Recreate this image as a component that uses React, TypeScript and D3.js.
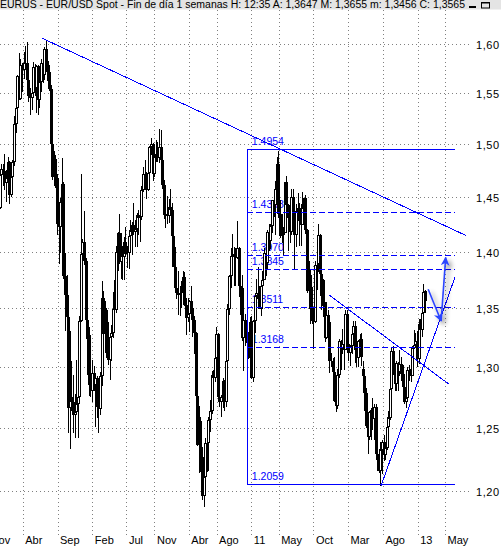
import React from "react";
import * as d3 from "d3";

const W = 501;
const H = 556;

const title =
  "EURUS - EUR/USD Spot - Fin de día 1 semanas H: 12:35 A: 1,3647 M: 1,3655 m: 1,3456 C: 1,3565";

// First weekly bar (Monday), each following row is the next week
const firstWeek = "2007-12-17";

// Weekly bars: [open, high, low, close]
const ohlc2007 = [
  [1.443, 1.4465, 1.4325, 1.44], [1.44, 1.474, 1.439, 1.471], [1.471, 1.4815, 1.455, 1.476],
];
const ohlc2008 = [
  [1.476, 1.4815, 1.46, 1.4745], [1.4745, 1.4905, 1.457, 1.463], [1.463, 1.475, 1.445, 1.468], [1.468, 1.4875, 1.466, 1.483],
  [1.483, 1.484, 1.444, 1.452], [1.452, 1.473, 1.4505, 1.4685], [1.4685, 1.485, 1.4575, 1.4835], [1.4835, 1.5275, 1.479, 1.5195],
  [1.5195, 1.5465, 1.511, 1.5355], [1.5355, 1.5685, 1.529, 1.567], [1.567, 1.5905, 1.5435, 1.544], [1.544, 1.5845, 1.543, 1.5785], [1.5785, 1.5805, 1.551, 1.573],
  [1.573, 1.5915, 1.5645, 1.5805], [1.5805, 1.598, 1.573, 1.581], [1.581, 1.6019, 1.562, 1.563], [1.563, 1.572, 1.5415, 1.547],
  [1.547, 1.5555, 1.5285, 1.545], [1.545, 1.56, 1.5335, 1.55], [1.55, 1.582, 1.547, 1.577], [1.577, 1.58, 1.547, 1.555],
  [1.555, 1.5785, 1.5305, 1.5775], [1.5775, 1.5785, 1.5285, 1.543], [1.543, 1.5635, 1.5355, 1.561], [1.561, 1.585, 1.551, 1.581], [1.581, 1.59, 1.5605, 1.568],
  [1.568, 1.597, 1.5635, 1.595], [1.595, 1.6038, 1.578, 1.5825], [1.5825, 1.5945, 1.5625, 1.571], [1.571, 1.5785, 1.552, 1.554],
  [1.554, 1.5585, 1.4975, 1.5], [1.5, 1.502, 1.466, 1.469], [1.469, 1.4935, 1.4605, 1.486], [1.486, 1.49, 1.4585, 1.4675],
  [1.4675, 1.4715, 1.415, 1.425], [1.425, 1.4285, 1.3885, 1.4225], [1.4225, 1.449, 1.3985, 1.445], [1.445, 1.4865, 1.4445, 1.462], [1.462, 1.4645, 1.376, 1.3785],
  [1.3785, 1.399, 1.33, 1.3615], [1.3615, 1.3795, 1.3325, 1.342], [1.342, 1.3455, 1.246, 1.266], [1.266, 1.33, 1.233, 1.275],
  [1.275, 1.3045, 1.264, 1.271], [1.271, 1.2935, 1.2455, 1.2605], [1.2605, 1.2775, 1.242, 1.2625], [1.2625, 1.3055, 1.262, 1.269],
  [1.269, 1.2795, 1.242, 1.275], [1.275, 1.3435, 1.273, 1.339], [1.339, 1.4719, 1.338, 1.3975], [1.3975, 1.4115, 1.385, 1.409], [1.409, 1.437, 1.388, 1.392],
];
const ohlc2009 = [
  [1.392, 1.3945, 1.332, 1.3395], [1.3395, 1.347, 1.2935, 1.3235], [1.3235, 1.3335, 1.276, 1.2845], [1.2845, 1.327, 1.275, 1.28],
  [1.28, 1.306, 1.271, 1.2945], [1.2945, 1.301, 1.28, 1.2845], [1.2845, 1.2935, 1.251, 1.291], [1.291, 1.292, 1.258, 1.2665],
  [1.2665, 1.2745, 1.2457, 1.2655], [1.2655, 1.2955, 1.26, 1.2925], [1.2925, 1.3739, 1.284, 1.3585], [1.3585, 1.365, 1.3255, 1.3275], [1.3275, 1.356, 1.3115, 1.3485],
  [1.3485, 1.3505, 1.3075, 1.321], [1.321, 1.338, 1.3015, 1.306], [1.306, 1.3275, 1.289, 1.3255], [1.3255, 1.3355, 1.3045, 1.3285],
  [1.3285, 1.364, 1.324, 1.3495], [1.3495, 1.375, 1.3475, 1.348], [1.348, 1.405, 1.346, 1.4], [1.4, 1.4175, 1.383, 1.417],
  [1.417, 1.434, 1.3885, 1.3905], [1.3905, 1.4165, 1.376, 1.3965], [1.3965, 1.405, 1.3745, 1.3955], [1.3955, 1.413, 1.375, 1.4085], [1.4085, 1.422, 1.395, 1.398],
  [1.398, 1.405, 1.385, 1.3985], [1.3985, 1.4195, 1.3845, 1.4145], [1.4145, 1.429, 1.4105, 1.419], [1.419, 1.427, 1.397, 1.424],
  [1.424, 1.4445, 1.415, 1.4175], [1.4175, 1.429, 1.4045, 1.4205], [1.4205, 1.435, 1.404, 1.433], [1.433, 1.438, 1.415, 1.4305], [1.4305, 1.4355, 1.4085, 1.4315],
  [1.4315, 1.46, 1.429, 1.4565], [1.4565, 1.478, 1.4545, 1.4715], [1.4715, 1.4845, 1.458, 1.468], [1.468, 1.4735, 1.448, 1.457],
  [1.457, 1.4845, 1.456, 1.473], [1.473, 1.4985, 1.4715, 1.497], [1.497, 1.5063, 1.49, 1.5005], [1.5005, 1.501, 1.465, 1.472],
  [1.472, 1.494, 1.4685, 1.4875], [1.4875, 1.5045, 1.483, 1.4905], [1.4905, 1.502, 1.483, 1.4865], [1.4865, 1.5144, 1.482, 1.497], [1.497, 1.514, 1.484, 1.4845],
  [1.4845, 1.4875, 1.458, 1.461], [1.461, 1.466, 1.4295, 1.4335], [1.4335, 1.4385, 1.4215, 1.434], [1.434, 1.451, 1.4255, 1.4325],
];
const ohlc2010 = [
  [1.4325, 1.448, 1.426, 1.441], [1.441, 1.458, 1.4345, 1.438], [1.438, 1.4445, 1.403, 1.4145], [1.4145, 1.4185, 1.386, 1.3865],
  [1.3865, 1.4045, 1.363, 1.368], [1.368, 1.3785, 1.358, 1.363], [1.363, 1.3825, 1.3445, 1.3615], [1.3615, 1.3695, 1.3435, 1.363],
  [1.363, 1.3735, 1.35, 1.3635], [1.3635, 1.383, 1.358, 1.377], [1.377, 1.382, 1.352, 1.353], [1.353, 1.3585, 1.3265, 1.3415], [1.3415, 1.359, 1.338, 1.345],
  [1.345, 1.3575, 1.3295, 1.3565], [1.3565, 1.369, 1.343, 1.3505], [1.3505, 1.3535, 1.3255, 1.3395], [1.3395, 1.3435, 1.311, 1.329],
  [1.329, 1.3295, 1.2515, 1.2755], [1.2755, 1.3095, 1.2355, 1.236], [1.236, 1.2675, 1.2145, 1.2555], [1.2555, 1.2585, 1.215, 1.227], [1.227, 1.2345, 1.1935, 1.1965],
  [1.1965, 1.215, 1.1876, 1.211], [1.211, 1.2415, 1.208, 1.238], [1.238, 1.243, 1.215, 1.2375], [1.2375, 1.2585, 1.2155, 1.2565],
  [1.2565, 1.2725, 1.247, 1.264], [1.264, 1.2965, 1.2615, 1.2935], [1.2935, 1.297, 1.2705, 1.2905], [1.2905, 1.311, 1.2875, 1.3075],
  [1.3075, 1.3335, 1.306, 1.3275], [1.3275, 1.329, 1.273, 1.275], [1.275, 1.29, 1.267, 1.271], [1.271, 1.2765, 1.259, 1.275], [1.275, 1.2905, 1.266, 1.2885],
  [1.2885, 1.289, 1.264, 1.271], [1.271, 1.3155, 1.2665, 1.305], [1.305, 1.354, 1.3, 1.349], [1.349, 1.3795, 1.3445, 1.3785],
  [1.3785, 1.403, 1.368, 1.3965], [1.3965, 1.4157, 1.3815, 1.3975], [1.3975, 1.4045, 1.3695, 1.395], [1.395, 1.4035, 1.3695, 1.394],
  [1.394, 1.4282, 1.393, 1.4035], [1.4035, 1.404, 1.3595, 1.369], [1.369, 1.3785, 1.3445, 1.3675], [1.3675, 1.379, 1.322, 1.324], [1.324, 1.3425, 1.2969, 1.34],
  [1.34, 1.345, 1.3175, 1.3295], [1.3295, 1.35, 1.3125, 1.32], [1.32, 1.324, 1.3065, 1.3075], [1.3075, 1.342, 1.3065, 1.338],
];
const ohlc2011 = [
  [1.338, 1.343, 1.2895, 1.2905], [1.2905, 1.3395, 1.287, 1.3385], [1.3385, 1.3615, 1.329, 1.361], [1.361, 1.376, 1.3595, 1.3635], [1.3635, 1.386, 1.3545, 1.358],
  [1.358, 1.3695, 1.349, 1.3495], [1.3495, 1.372, 1.343, 1.3695], [1.3695, 1.383, 1.366, 1.375], [1.375, 1.4035, 1.3745, 1.399],
  [1.399, 1.4035, 1.3785, 1.39], [1.39, 1.42, 1.3835, 1.418], [1.418, 1.425, 1.401, 1.4095], [1.4095, 1.425, 1.402, 1.423],
  [1.423, 1.4475, 1.417, 1.447], [1.447, 1.452, 1.4315, 1.443], [1.443, 1.465, 1.4155, 1.4575], [1.4575, 1.4882, 1.4545, 1.4815],
  [1.4815, 1.494, 1.431, 1.4345], [1.4345, 1.447, 1.4125, 1.414], [1.414, 1.4345, 1.408, 1.4155], [1.4155, 1.4225, 1.3968, 1.417], [1.417, 1.4645, 1.4165, 1.464],
  [1.464, 1.47, 1.442, 1.443], [1.443, 1.444, 1.401, 1.431], [1.431, 1.445, 1.408, 1.4175], [1.4175, 1.458, 1.415, 1.45],
  [1.45, 1.458, 1.4245, 1.426], [1.426, 1.4285, 1.3838, 1.415], [1.415, 1.444, 1.404, 1.437], [1.437, 1.4535, 1.4285, 1.4395],
  [1.4395, 1.4445, 1.4055, 1.4275], [1.4275, 1.444, 1.4055, 1.4245], [1.4245, 1.4549, 1.424, 1.44], [1.44, 1.4495, 1.4295, 1.4495], [1.4495, 1.452, 1.416, 1.42],
  [1.42, 1.4205, 1.3635, 1.365], [1.365, 1.3915, 1.3495, 1.379], [1.379, 1.3835, 1.336, 1.35], [1.35, 1.3685, 1.336, 1.3385],
  [1.3385, 1.344, 1.3146, 1.338], [1.338, 1.3915, 1.337, 1.388], [1.388, 1.3905, 1.3655, 1.389], [1.389, 1.4247, 1.3815, 1.415], [1.415, 1.416, 1.361, 1.38],
  [1.38, 1.385, 1.3485, 1.375], [1.375, 1.376, 1.342, 1.352], [1.352, 1.3555, 1.321, 1.324], [1.324, 1.355, 1.3235, 1.3445],
  [1.3445, 1.3485, 1.3285, 1.338], [1.338, 1.34, 1.2945, 1.3045], [1.3045, 1.312, 1.2995, 1.3045], [1.3045, 1.3075, 1.286, 1.296],
];
const ohlc2012 = [
  [1.296, 1.308, 1.271, 1.272], [1.272, 1.288, 1.2624, 1.268], [1.268, 1.2985, 1.2655, 1.2935], [1.2935, 1.3235, 1.291, 1.3215], [1.3215, 1.323, 1.2975, 1.315],
  [1.315, 1.332, 1.3105, 1.3195], [1.3195, 1.326, 1.2975, 1.3145], [1.3145, 1.3487, 1.314, 1.345], [1.345, 1.3485, 1.319, 1.3195],
  [1.3195, 1.329, 1.305, 1.3115], [1.3115, 1.3185, 1.3005, 1.3175], [1.3175, 1.3295, 1.3105, 1.3275], [1.3275, 1.3385, 1.325, 1.3345],
  [1.3345, 1.3385, 1.3035, 1.314], [1.314, 1.3215, 1.3, 1.3075], [1.3075, 1.3225, 1.3, 1.322], [1.322, 1.328, 1.3115, 1.3235], [1.3235, 1.3285, 1.301, 1.308],
  [1.2985, 1.305, 1.29, 1.292], [1.292, 1.294, 1.264, 1.278], [1.278, 1.2825, 1.2495, 1.2515], [1.2515, 1.2625, 1.2288, 1.243],
  [1.243, 1.264, 1.2405, 1.263], [1.263, 1.266, 1.2405, 1.2645], [1.2645, 1.2745, 1.2485, 1.257], [1.257, 1.269, 1.2405, 1.2665],
  [1.2665, 1.2695, 1.2285, 1.229], [1.229, 1.2345, 1.216, 1.2245], [1.2245, 1.233, 1.2145, 1.216], [1.216, 1.239, 1.2042, 1.232], [1.232, 1.2405, 1.2135, 1.2385],
  [1.2385, 1.2445, 1.224, 1.2285], [1.2285, 1.2375, 1.2245, 1.2335], [1.2335, 1.2585, 1.2325, 1.251], [1.251, 1.2635, 1.247, 1.258],
  [1.258, 1.282, 1.256, 1.2815], [1.2815, 1.317, 1.281, 1.313], [1.313, 1.3172, 1.2935, 1.296], [1.296, 1.3, 1.28, 1.2855],
  [1.2855, 1.3045, 1.28, 1.3035], [1.3035, 1.304, 1.28, 1.2955], [1.2955, 1.314, 1.292, 1.302], [1.302, 1.3085, 1.288, 1.294], [1.294, 1.3015, 1.28, 1.2835],
  [1.2835, 1.2875, 1.2695, 1.271], [1.271, 1.28, 1.266, 1.2745], [1.2745, 1.3, 1.2735, 1.2975], [1.2975, 1.3015, 1.288, 1.2985],
  [1.2985, 1.3125, 1.2875, 1.2925], [1.2925, 1.3175, 1.292, 1.316], [1.316, 1.331, 1.315, 1.318], [1.318, 1.329, 1.3165, 1.3215], [1.3215, 1.33, 1.3, 1.3065],
];
const ohlc2013 = [
  [1.3065, 1.3405, 1.302, 1.3365], [1.3365, 1.3405, 1.3255, 1.3315], [1.3315, 1.348, 1.3255, 1.346], [1.346, 1.3711, 1.3415, 1.364],
  [1.3647, 1.3655, 1.3456, 1.3565],
];

// Time axis: month boundaries and their labels
const monthTicks = [
  "2007-11-01", "2008-04-01", "2008-09-01", "2009-02-01", "2009-07-01", "2009-11-01", "2010-04-01", "2010-08-01",
  "2011-01-01", "2011-05-01", "2011-10-01", "2012-03-01", "2012-08-01", "2013-01-01", "2013-05-01",
];
const monthLabels = ["Nov", "Abr", "Sep", "Feb", "Jul", "Nov", "Abr", "Ago", "11", "May", "Oct", "Mar", "Ago", "13", "May"];

// Price axis
const priceTicks = [1.2, 1.25, 1.3, 1.35, 1.4, 1.45, 1.5, 1.55, 1.6];

// Fibonacci retracement box of the 2011 high / 2012 low swing
const fibSolid = [1.4954, 1.2059];
const fibDashed = [1.4358, 1.397, 1.3845, 1.3511, 1.3168];
const fibLabelValues = [1.4954, 1.4358, 1.397, 1.3845, 1.3511, 1.3168, 1.2059];
const fibLabelTexts = ["1.4954", "1.4358", "1.3970", "1.3845", "1.3511", "1.3168", "1.2059"];
const fibStart = "2010-12-12";
const fibEnd = "2013-06-13";

// Trend lines: [date, price] end points
const mainTrend = [["2008-06-26", 1.6059], ["2013-08-03", 1.4144]];
const minorTrend = [["2011-12-08", 1.3615], ["2013-05-19", 1.2855]];
const supportTrend = [["2012-07-24", 1.2042], ["2013-06-14", 1.3773]];

// Projected path drawn with arrows
const projection = [["2013-02-16", 1.3665], ["2013-04-14", 1.3389], ["2013-05-04", 1.3947]];

const parse = (s: string) => new Date(s + "T00:00:00Z");
const DAY = 864e5;

const x = d3.scaleUtc().domain([parse("2008-04-01"), parse("2013-05-01")]).range([22.7, 445]);
const y = d3.scaleLog().domain([1.2, 1.6]).range([491.3, 44]);

const rows = [...ohlc2007, ...ohlc2008, ...ohlc2009, ...ohlc2010, ...ohlc2011, ...ohlc2012, ...ohlc2013];
const start = parse(firstWeek).getTime();
const candles = rows.map((r, i) => ({
  date: new Date(start + i * 7 * DAY),
  o: r[0], h: r[1], l: r[2], c: r[3],
}));

const font = "'Liberation Sans', Arial, sans-serif";
const BLUE = "#0000ff";

const pt = (p: (string | number)[]) => [x(parse(p[0] as string)), y(p[1] as number)];

export default function App() {
  const fx0 = x(parse(fibStart));
  const fx1 = x(parse(fibEnd));

  const trend = (seg: (string | number)[][], key: string) => {
    const [a, b] = seg.map(pt);
    return <line key={key} x1={a[0]} y1={a[1]} x2={b[0]} y2={b[1]} stroke={BLUE} strokeWidth={1} shapeRendering="crispEdges" />;
  };

  const proj = projection.map(pt);

  return (
    <svg
      width={W}
      height={H}
      style={{ position: "absolute", left: 0, top: 0, background: "#fff" }}
      xmlns="http://www.w3.org/2000/svg"
    >
      <defs>
        <filter id="shade" x="-100%" y="-100%" width="300%" height="300%">
          <feGaussianBlur in="SourceAlpha" stdDeviation="2.5" />
          <feOffset dx="3" dy="3" result="b" />
          <feComponentTransfer>
            <feFuncA type="linear" slope="0.45" />
          </feComponentTransfer>
          <feMerge>
            <feMergeNode />
            <feMergeNode in="SourceGraphic" />
          </feMerge>
        </filter>
        <marker id="head" viewBox="0 0 10 10" refX="9" refY="5" markerWidth="9" markerHeight="9" markerUnits="userSpaceOnUse" orient="auto">
          <path d="M0,0 L10,5 L0,10 L3,5 Z" fill="#2a44ff" />
        </marker>
      </defs>

      <rect x={0} y={0} width={W} height={H} fill="#fff" />

      {/* title bar */}
      <rect x={0} y={0} width={W} height={9.5} fill="#e4e4e4" />
      <text x={0} y={8.2} fontFamily={font} fontSize={10} fill="#000" textLength={465} lengthAdjust="spacingAndGlyphs">
        {title}
      </text>
      <rect x={469} y={6} width={7} height={2} fill="#000" />
      <rect x={481.5} y={2.5} width={8} height={5.5} fill="none" stroke="#000" strokeWidth={1} />
      <rect x={481} y={2} width={9} height={1.5} fill="#000" />

      {/* grid */}
      {priceTicks.map((p) => (
        <line key={"h" + p} x1={0} x2={472} y1={Math.round(y(p)) + 0.5} y2={Math.round(y(p)) + 0.5} stroke="#808080" strokeDasharray="1,3" />
      ))}
      {monthTicks.map((m) => (
        <line key={"v" + m} x1={Math.round(x(parse(m))) + 0.5} x2={Math.round(x(parse(m))) + 0.5} y1={10} y2={536} stroke="#808080" strokeDasharray="1,3" />
      ))}

      {/* axis labels */}
      {priceTicks.map((p) => (
        <text key={"pl" + p} x={476} y={y(p) + 5} fontFamily={font} fontSize={11} fill="#000" letterSpacing={0.6}>
          {p.toFixed(2).replace(".", ",")}
        </text>
      ))}
      {monthTicks.map((m, i) => (
        <text key={"ml" + m} x={x(parse(m)) + 2.5} y={543.5} fontFamily={font} fontSize={11} fill="#000">
          {monthLabels[i]}
        </text>
      ))}

      {/* Fibonacci labels (under the bars) */}
      {fibLabelValues.map((v, i) => (
        <text key={"fl" + i} x={fx0 + 5} y={y(v) - 4} fontFamily={font} fontSize={10.5} fill={BLUE}>
          {fibLabelTexts[i]}
        </text>
      ))}

      {/* weekly candles */}
      <g shapeRendering="crispEdges">
        {candles.map((d, i) => {
          const cx = Math.floor(x(d.date));
          const top = Math.round(y(Math.max(d.o, d.c)));
          const bot = Math.round(y(Math.min(d.o, d.c)));
          const up = d.c >= d.o;
          return (
            <g key={i}>
              <line x1={cx + 0.5} x2={cx + 0.5} y1={y(d.h)} y2={y(d.l)} stroke="#000" strokeWidth={1} />
              {up ? (
                <rect x={cx - 0.5} y={top + 0.5} width={2} height={Math.max(0, bot - top - 1)} fill="#fff" stroke="#000" strokeWidth={1} />
              ) : (
                <rect x={cx - 1} y={top} width={3} height={Math.max(1, bot - top)} fill="#000" />
              )}
            </g>
          );
        })}
      </g>

      {/* Fibonacci box */}
      <g shapeRendering="crispEdges">
        <line x1={Math.round(fx0) + 0.5} x2={Math.round(fx0) + 0.5} y1={Math.round(y(fibSolid[0])) + 0.5} y2={Math.round(y(fibSolid[1])) + 0.5} stroke={BLUE} />
        {fibSolid.map((v) => (
          <line key={"fs" + v} x1={fx0} x2={fx1} y1={Math.round(y(v)) + 0.5} y2={Math.round(y(v)) + 0.5} stroke={BLUE} />
        ))}
        {fibDashed.map((v) => (
          <line key={"fd" + v} x1={fx0} x2={fx1} y1={Math.round(y(v)) + 0.5} y2={Math.round(y(v)) + 0.5} stroke={BLUE} strokeDasharray="6,3" />
        ))}
      </g>

      {/* trend lines */}
      {trend(mainTrend, "t1")}
      {trend(minorTrend, "t2")}
      {trend(supportTrend, "t3")}

      {/* projected path */}
      <g filter="url(#shade)">
        <line x1={proj[0][0]} y1={proj[0][1]} x2={proj[1][0]} y2={proj[1][1]} stroke="#2a44ff" strokeWidth={1.6} markerEnd="url(#head)" />
        <line x1={proj[1][0]} y1={proj[1][1]} x2={proj[2][0]} y2={proj[2][1]} stroke="#2a44ff" strokeWidth={1.6} markerEnd="url(#head)" />
      </g>
    </svg>
  );
}
